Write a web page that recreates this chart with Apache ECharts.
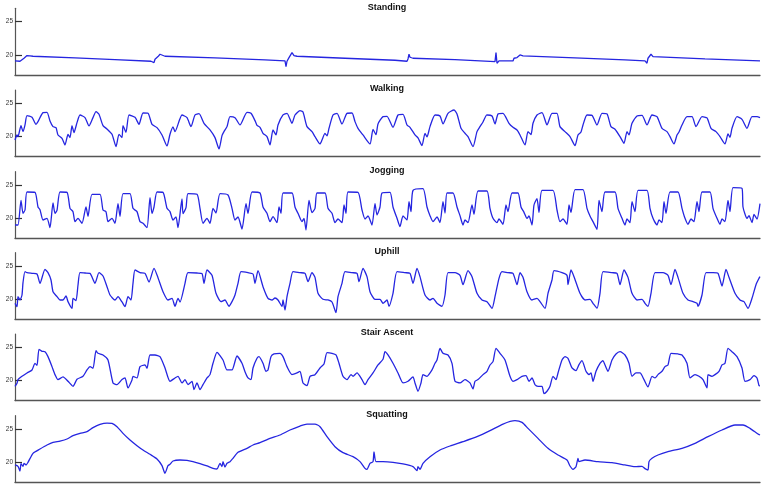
<!DOCTYPE html>
<html>
<head>
<meta charset="utf-8">
<script src="https://cdn.jsdelivr.net/npm/echarts@6/dist/echarts.min.js"></script>
<style>
html, body { margin: 0; padding: 0; background: #fff; }
#chart { width: 770px; height: 494px; }
</style>
</head>
<body>
<div id="chart"></div>
<script>
// panel names, top to bottom
var titles = ['Standing', 'Walking', 'Jogging', 'Uphill', 'Stair Ascent', 'Squatting'];
var yTicks = [20, 25];
var yMin = 17, yMax = 27, tMax = 745;

// [sample, value] pairs
var standing = [[0,19.1],[5,19.05],[7,19.35],[9,19.5],[10,19.75],[11,19.55],[12,19.9],[13,19.75],[14,20.05],[15,19.85],[18,19.8],[60,19.55],[100,19.3],[136,19.05],[138,19.0],[139,18.85],[140,19.35],[141,19.25],[143,19.75],[145,20.1],[147,19.85],[150,19.8],[200,19.55],[250,19.25],[270,19.1],[271,18.25],[272,19.05],[274,19.6],[276,19.7],[277,20.35],[279,19.9],[282,19.8],[330,19.5],[380,19.2],[392,19.05],[393,19.4],[394,20.1],[395,19.65],[398,19.5],[440,19.3],[480,19.0],[481,20.35],[482,18.75],[484,19.1],[498,19.1],[499,19.5],[501,19.75],[502,19.6],[504,19.85],[505,20.0],[508,19.85],[560,19.55],[610,19.25],[630,19.1],[632,18.75],[633,19.5],[636,20.1],[638,19.75],[690,19.4],[745,19.1]];

var walking = [[0,19.5],[2,20.25],[3,20.0],[6,21.65],[8,20.75],[10,21.75],[12,23.15],[17,22.9],[21,21.85],[23,22.25],[28,23.6],[32,23.65],[35,22.35],[38,21.5],[41,21.35],[43,20.25],[47,19.75],[50,18.75],
[53,20.35],[55,19.85],[57,21.65],[59,20.6],[62,22.1],[65,23.25],[70,22.85],[74,21.6],[78,22.85],[81,23.75],[84,23.35],[88,21.65],[92,21.15],[97,20.35],[101,18.5],
[104,20.35],[107,19.85],[108,21.65],[111,20.65],[114,23.25],[120,22.9],[124,21.85],[128,23.55],[133,23.5],[137,21.85],[142,21.35],[147,20.25],[152,18.6],
[155,20.35],[158,21.45],[160,20.75],[167,23.25],[172,22.85],[176,21.5],[180,23.25],[184,23.45],[189,22.0],[195,21.0],[200,19.85],[204,18.15],
[207,20.15],[209,20.75],[212,21.5],[215,23.0],[220,22.85],[225,21.75],[232,23.65],[236,23.5],[240,22.4],[242,21.7],[245,21.4],[248,20.5],[252,20.0],[255,18.75],
[258,21.0],[261,20.25],[263,21.75],[268,23.25],[272,23.5],[277,22.0],[280,23.25],[285,23.9],[288,23.7],[292,21.5],[297,20.75],[300,20.0],[305,18.9],
[307,19.5],[310,20.5],[312,20.1],[314,21.25],[318,23.25],[322,23.5],[327,21.9],[332,23.5],[337,23.55],[340,22.25],[343,21.25],[348,20.25],[355,18.9],
[358,21.1],[361,20.3],[363,21.9],[368,23.0],[372,23.05],[378,21.4],[383,23.25],[388,23.35],[392,21.75],[395,21.4],[400,20.25],[403,19.8],[407,18.65],
[410,20.5],[412,19.95],[415,21.5],[420,23.25],[425,23.1],[428,21.9],[433,23.5],[439,24.0],[442,23.4],[446,21.25],[450,20.5],[453,20.0],[458,18.5],
[462,20.75],[465,21.5],[468,22.2],[472,23.25],[477,23.1],[480,21.9],[483,23.4],[488,23.5],[494,22.0],[498,21.4],[502,21.0],[505,20.25],[510,18.75],
[513,20.75],[516,20.3],[518,22.0],[522,23.25],[527,23.6],[532,21.75],[537,23.5],[542,23.5],[545,21.5],[550,20.75],[555,20.0],[560,18.65],
[563,20.25],[566,20.7],[568,21.75],[572,23.25],[577,23.2],[582,21.75],[587,23.5],[592,23.4],[596,21.5],[600,21.1],[605,20.0],[609,19.0],
[612,20.75],[614,20.25],[617,22.0],[622,23.1],[627,23.2],[632,21.75],[637,23.25],[642,23.0],[647,21.25],[652,20.75],[655,20.0],[659,18.9],
[662,20.25],[664,20.7],[667,21.75],[672,23.0],[677,23.0],[681,21.5],[687,23.0],[692,22.8],[696,21.25],[701,20.75],[705,20.0],[710,18.9],
[713,20.4],[715,19.9],[717,21.25],[722,23.0],[727,22.6],[732,21.25],[737,23.0],[742,23.0],[745,22.85]];

var jogging = [[0,19.0],[3,19.0],[6,22.7],[8,20.75],[10,21.25],[12,23.95],
[20,23.9],[23,21.7],[25,21.3],[28,19.75],[32,20.0],[35,18.6],[38,22.3],[40,20.75],[42,21.2],[45,23.95],
[52,23.9],[55,21.5],[58,21.0],[60,19.5],[63,20.0],[67,19.25],[71,21.7],[73,20.3],[77,23.6],
[85,23.6],[88,21.25],[91,21.0],[93,19.5],[97,20.0],[100,19.25],[103,22.2],[105,20.3],[108,23.7],
[115,23.7],[118,21.5],[122,21.0],[125,19.5],[128,19.25],[132,18.6],[135,23.1],[137,20.75],[139,21.7],[142,23.95],
[148,23.9],[152,21.5],[155,21.0],[158,19.75],[161,20.2],[163,18.6],[167,22.9],[168,20.7],[171,21.6],[173,23.7],
[182,23.6],[185,21.5],[188,19.25],[192,20.0],[195,19.25],[198,21.5],[201,20.8],[205,23.7],
[213,23.5],[217,21.5],[220,19.75],[223,20.2],[227,18.4],[231,22.2],[233,20.75],[237,23.95],
[245,23.8],[248,21.7],[252,20.75],[255,19.5],[258,20.25],[262,19.35],[264,21.7],[266,20.75],[268,23.8],
[277,23.8],[280,21.7],[283,20.75],[287,19.5],[289,20.0],[291,18.25],[294,22.7],[297,20.85],[300,21.5],[302,23.8],
[310,23.8],[313,21.5],[317,20.75],[320,19.35],[323,19.9],[327,19.35],[329,22.0],[331,20.75],[333,23.95],
[343,23.9],[347,21.25],[350,19.9],[353,20.35],[357,19.0],[360,22.2],[362,20.5],[365,21.7],[367,23.8],
[375,23.9],[378,21.7],[382,20.0],[385,18.75],[388,20.35],[392,19.75],[394,22.5],[396,21.0],[398,24.2],
[408,24.45],[412,21.7],[415,20.4],[418,19.5],[422,20.2],[425,19.35],[428,22.5],[430,20.8],[432,23.8],
[438,23.8],[442,21.7],[445,20.4],[448,19.0],[450,19.75],[453,19.35],[457,22.0],[459,20.6],[463,24.1],
[472,24.1],[475,21.5],[478,20.0],[482,19.35],[484,19.9],[488,19.1],[491,22.0],[493,21.0],[497,23.8],
[503,23.8],[506,21.7],[509,20.9],[512,20.0],[514,20.35],[517,19.0],[519,22.0],[522,22.95],[524,20.9],[527,24.2],
[538,24.2],[542,21.25],[545,19.5],[548,19.9],[552,19.1],[554,22.0],[556,20.9],[560,24.3],
[568,24.3],[572,21.5],[575,20.35],[578,19.5],[582,18.35],[584,22.7],[587,21.0],[590,23.95],
[600,23.95],[603,21.5],[607,20.0],[610,19.0],[612,19.9],[615,19.35],[617,22.5],[620,21.0],[623,24.2],
[632,24.2],[635,21.5],[638,20.0],[642,19.0],[644,19.75],[647,19.35],[649,22.5],[651,20.75],[655,23.95],
[663,23.95],[667,21.5],[670,20.0],[673,19.1],[676,19.9],[679,19.5],[682,22.5],[684,21.0],[687,23.95],
[695,23.95],[698,21.5],[702,20.0],[705,19.1],[707,19.9],[710,19.5],[713,22.7],[715,21.0],[718,24.6],
[727,24.5],[728,21.7],[732,20.0],[734,20.4],[737,19.35],[739,20.6],[742,19.9],[745,22.2]];

var uphill = [[0,19.4],[2,18.9],[3,20.4],[5,19.9],[7,20.65],[8,22.5],[10,24.15],
[12,24.0],[17,23.9],[22,23.8],[25,22.4],[30,24.5],[33,24.0],[36,22.9],[38,21.15],[42,20.4],[45,19.9],[48,19.9],[51,20.5],[53,19.65],[57,18.65],[58,20.15],[61,19.8],[63,22.15],[65,24.0],
[70,23.95],[75,23.9],[80,22.4],[84,24.0],[88,23.5],[92,21.9],[95,20.65],[100,19.9],[103,20.4],[107,19.6],[110,18.9],[113,20.4],[116,19.9],[118,22.4],[120,24.4],
[125,24.0],[130,23.9],[134,22.6],[139,24.65],[143,23.25],[148,21.15],[153,19.9],[157,20.15],[160,18.95],[163,20.15],[165,19.6],[170,22.4],[173,24.0],
[182,23.95],[187,23.85],[189,22.4],[192,24.4],[197,23.6],[201,20.9],[206,19.65],[210,19.9],[214,18.95],[217,19.65],[220,20.65],[223,22.4],[226,24.15],
[233,24.0],[238,23.8],[240,22.4],[243,24.3],[248,21.9],[253,20.15],[257,19.9],[260,20.2],[263,19.9],[267,18.95],[268,19.9],[270,18.4],[272,20.4],[275,22.4],[278,24.15],
[285,24.0],[290,23.9],[293,22.65],[297,24.0],[300,23.3],[303,20.9],[308,20.0],[313,19.9],[317,19.6],[321,18.0],[323,20.4],[327,22.4],[330,24.15],
[337,24.0],[342,23.9],[344,22.65],[348,24.65],[352,23.4],[355,21.15],[360,20.0],[365,20.0],[368,19.4],[372,19.9],[374,18.95],[378,20.9],[382,24.15],
[390,24.0],[395,23.9],[398,22.4],[402,24.65],[405,23.4],[410,20.65],[415,19.9],[418,20.15],[422,19.4],[427,18.95],[430,20.65],[433,24.0],
[440,24.0],[445,23.6],[448,22.2],[453,24.3],[457,23.4],[462,20.9],[467,19.9],[472,19.65],[477,18.65],[480,20.4],[484,23.15],[487,24.15],
[493,24.0],[498,23.9],[502,22.2],[505,24.0],[508,23.3],[512,21.15],[517,19.9],[522,20.15],[525,19.65],[530,18.65],[533,20.9],[537,22.9],[539,24.3],
[547,24.0],[552,23.6],[553,22.2],[556,24.4],[559,23.4],[565,20.9],[570,19.9],[575,20.0],[578,19.4],[582,18.65],[585,20.9],[588,24.15],
[597,24.0],[602,23.9],[605,22.2],[609,24.4],[613,23.3],[617,20.9],[622,19.9],[627,20.0],[630,19.4],[633,18.95],[636,20.9],[640,24.0],
[648,24.0],[653,23.6],[656,22.2],[660,24.5],[663,23.3],[668,20.9],[673,19.9],[678,19.65],[682,19.4],[683,18.95],[687,20.65],[691,24.0],
[698,24.0],[703,23.9],[707,22.0],[711,24.5],[714,23.3],[720,20.9],[725,19.9],[729,19.65],[733,18.65],[737,20.15],[741,22.2],[744,23.15],[745,23.4]];

var stairAscent = [[0,19.15],[2,19.6],[3,20.15],[7,20.65],[12,21.15],[17,21.6],[20,22.6],[22,22.3],[24,24.7],[27,24.4],[30,24.35],[33,23.6],[37,22.1],[40,20.9],[43,20.15],[48,20.55],[53,19.9],[58,19.15],
[62,20.2],[68,20.65],[72,21.6],[75,22.1],[78,21.85],[81,24.5],[83,24.1],[88,23.85],[93,23.1],[98,19.65],[102,19.4],[107,20.15],[110,20.4],[113,18.9],[117,20.1],[118,20.65],[122,20.4],
[125,22.1],[130,22.35],[132,21.85],[135,23.85],[140,23.85],[145,23.6],[150,21.9],[155,19.9],[160,20.4],[163,20.65],[167,19.65],[170,20.15],[173,19.4],[177,19.9],[179,18.65],[182,19.65],[185,18.65],[188,19.4],
[192,20.4],[195,20.9],[198,22.6],[202,24.25],[208,23.1],[212,21.6],[217,21.6],[222,23.7],[227,22.6],[230,21.35],[233,20.4],[236,20.15],[238,21.9],[242,23.35],[244,23.6],[248,22.6],[251,21.4],[253,21.6],
[256,23.6],[259,24.0],[265,24.1],[268,23.6],[272,22.1],[277,20.9],[282,21.15],[285,21.4],[288,19.65],[292,19.25],[295,20.65],[300,20.9],[305,21.9],[309,22.5],
[312,24.2],[317,24.1],[321,23.85],[324,22.6],[328,20.65],[332,20.15],[336,20.9],[338,20.65],[342,21.15],[347,20.15],[350,19.4],[353,20.15],[358,21.15],[363,22.35],[368,23.2],
[370,24.35],[373,23.85],[378,22.6],[383,21.15],[388,19.65],[393,19.9],[398,20.55],[400,19.65],[403,18.4],[406,19.65],[408,20.9],[412,20.65],[417,21.6],[420,22.6],[422,23.1],
[425,24.85],[428,24.1],[433,23.85],[437,22.6],[440,19.9],[445,19.65],[450,20.15],[455,19.65],[458,18.75],[460,19.9],[463,20.15],[468,20.9],[472,21.4],[475,22.35],[478,22.85],
[481,24.85],[485,24.1],[490,23.1],[495,20.65],[498,19.9],[502,20.15],[507,20.65],[511,20.75],[514,19.9],[517,20.4],[520,19.4],[523,19.15],[527,19.15],[529,18.05],[532,18.4],[535,19.15],[538,20.65],[541,20.15],[543,21.15],
[547,23.1],[550,23.6],[553,23.35],[557,21.9],[561,21.5],[564,22.4],[567,23.0],[571,21.4],[574,20.9],[576,21.15],[578,19.9],[581,21.4],[585,22.6],[588,23.0],[590,22.35],[593,21.4],
[597,23.1],[601,24.0],[605,24.35],[610,23.85],[614,22.6],[617,20.65],[621,21.15],[625,21.15],[629,20.15],[633,19.05],[637,20.65],[640,20.4],[643,20.9],[647,21.4],[650,22.1],[653,22.35],
[656,24.1],[663,24.0],[667,23.85],[672,22.6],[675,20.4],[680,20.9],[684,20.65],[688,20.15],[692,18.9],[693,20.9],[697,20.65],[700,20.9],[704,21.4],[707,22.35],[710,22.6],
[713,24.85],[717,24.35],[722,23.6],[727,21.9],[730,19.9],[735,20.15],[739,20.75],[742,20.4],[744,19.25],[745,19.2]];

var squatting = [[0,19.6],[3,19.4],[5,18.7],[6,19.8],[8,19.4],[9,19.85],[11,19.6],[13,20.0],[18,21.35],[25,22.0],[32,22.6],[38,23.0],[45,23.2],[52,23.5],[58,24.0],[65,24.35],[72,24.6],[78,25.2],[85,25.7],[92,25.9],[97,25.85],
[102,25.35],[108,24.35],[115,23.35],[122,22.5],[128,21.85],[135,21.2],[142,20.5],[147,19.5],[150,18.35],[152,19.1],[153,19.5],[155,19.7],[158,20.2],[165,20.35],[172,20.3],[178,20.1],[185,19.8],[192,19.45],[198,19.1],[202,19.0],
[205,19.85],[207,19.35],[208,20.1],[210,19.3],[212,19.85],[215,20.1],[218,20.6],[223,21.5],[232,22.1],[238,22.6],[245,22.95],[255,23.6],[265,24.1],[275,24.85],[285,25.45],[292,25.75],[300,25.75],
[305,25.35],[312,23.85],[320,22.35],[328,21.45],[338,20.85],[345,20.1],[350,19.1],[352,18.95],[355,19.85],[358,20.1],[359,21.55],[361,20.1],[368,20.1],[378,20.0],[388,19.75],[398,19.35],[402,18.75],[403,19.35],[405,18.95],
[408,19.85],[415,20.85],[425,21.85],[435,22.45],[448,23.1],[462,23.85],[475,24.75],[488,25.75],[500,26.25],[507,26.0],[513,25.1],[523,23.6],[533,22.1],[543,21.1],[552,20.35],[555,19.45],[558,18.95],[561,19.35],[563,20.6],[564,20.1],
[570,20.35],[583,20.1],[597,19.95],[610,19.6],[620,19.35],[627,19.4],[630,19.05],[633,18.85],[634,20.1],[637,20.6],[643,21.1],[653,21.6],[667,22.1],[680,22.85],[693,23.85],[707,24.85],[720,25.6],[728,25.6],[735,25.1],[743,24.25],[745,24.1]];

var traces = [standing, walking, jogging, uphill, stairAscent, squatting];

var chart = echarts.init(document.getElementById('chart'));
var tops = [8.3, 90, 171.7, 252.7, 334, 415.7];
var axisColor = '#555';

var grids = [], xAxes = [], yAxes = [], series = [], titleList = [];
tops.forEach(function(top, i) {
    grids.push({ left: 15, width: 745, top: top, height: 66.6 });
    xAxes.push({
        type: 'value', gridIndex: i, min: 0, max: tMax,
        axisLine: { onZero: false, lineStyle: { color: axisColor, width: 1.3 } },
        axisTick: { show: false }, axisLabel: { show: false }, splitLine: { show: false }
    });
    yAxes.push({
        type: 'value', gridIndex: i, min: yMin, max: yMax,
        axisLine: { show: true, onZero: false, lineStyle: { color: axisColor, width: 1.2 } },
        axisTick: { show: true, inside: true, length: 7, customValues: yTicks, lineStyle: { color: '#333', width: 1.2 } },
        axisLabel: { customValues: yTicks, fontSize: 6.5, color: '#333', margin: 2, fontFamily: 'Liberation Sans' },
        splitLine: { show: false }
    });
    series.push({
        type: 'line', xAxisIndex: i, yAxisIndex: i, data: traces[i],
        showSymbol: false, symbol: 'none',
        smooth: i === 0 ? false : 0.2,
        lineStyle: { color: '#2525e0', width: 1.3 }
    });
    titleList.push({
        text: titles[i], left: 387, top: top - 5.5, textAlign: 'center', padding: 0,
        textStyle: { fontSize: 9, fontWeight: 'bold', color: '#111', fontFamily: 'Liberation Sans' }
    });
});

chart.setOption({
    backgroundColor: '#fff',
    animation: false,
    title: titleList,
    grid: grids,
    xAxis: xAxes,
    yAxis: yAxes,
    series: series
});
</script>
</body>
</html>
